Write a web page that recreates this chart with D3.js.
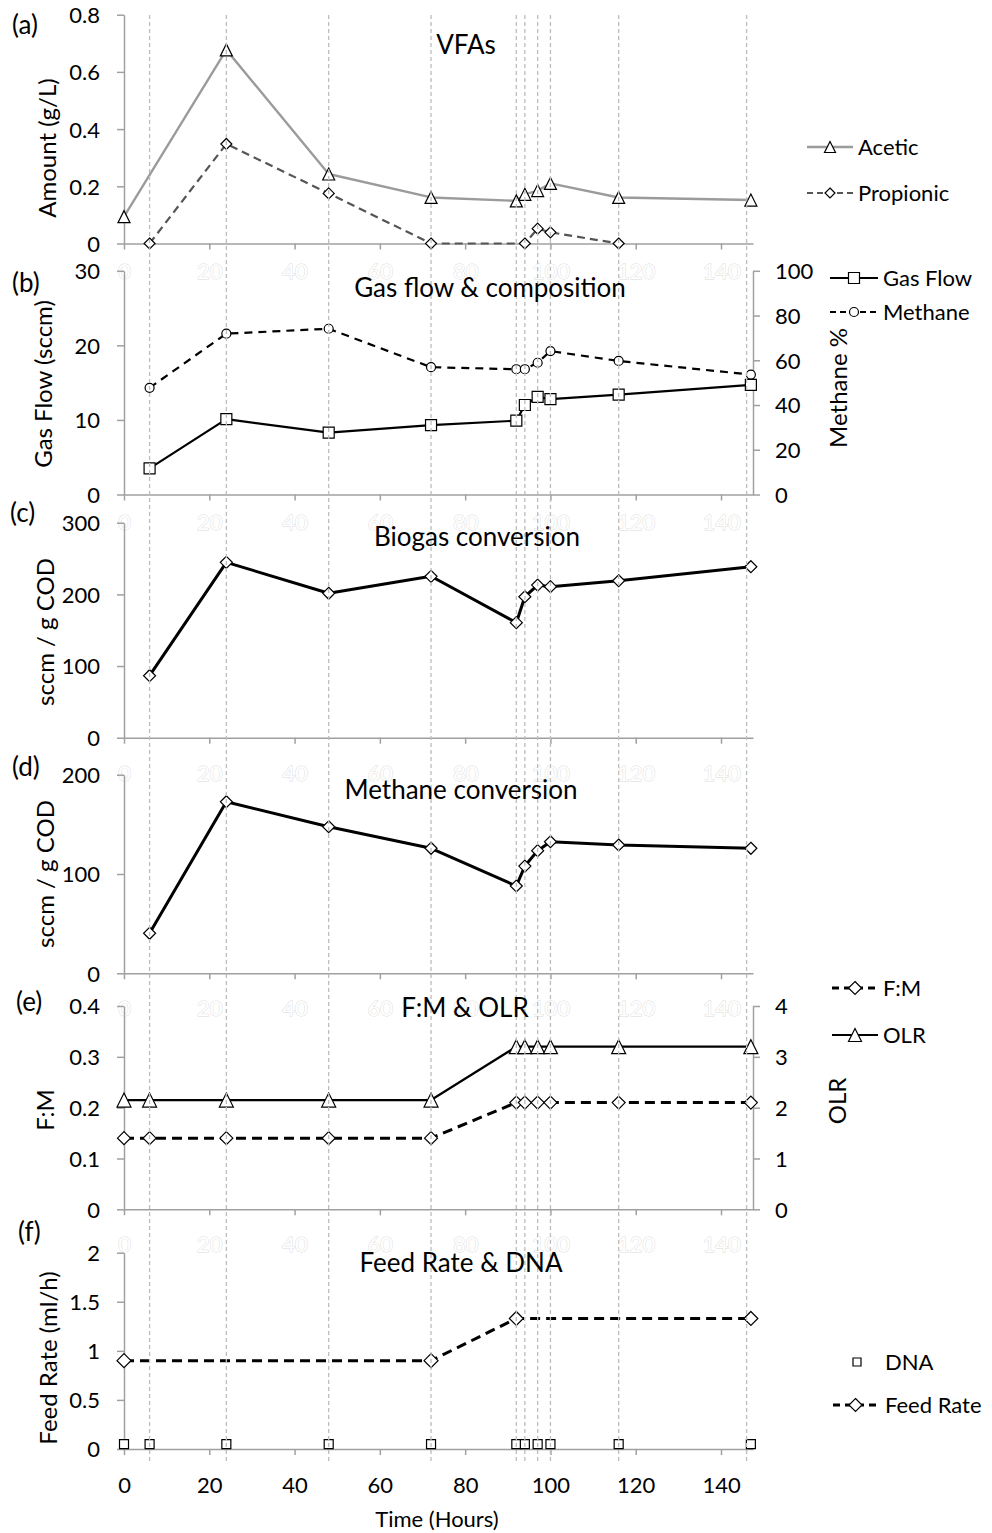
<!DOCTYPE html>
<html>
<head>
<meta charset="utf-8">
<script src="https://cdn.jsdelivr.net/npm/d3@7/dist/d3.min.js"></script>
<style>
  html, body { margin: 0; padding: 0; background: #fff; }
  svg { display: block; }
  text { font-family: Lato, "Open Sans", sans-serif; }
</style>
</head>
<body>
<svg id="chart" width="992" height="1533"></svg>
<script>
// ---- data ----
const sampleHours = [0, 6, 24, 48, 72, 92, 94, 97, 100, 116, 147];
const guideHours = [6, 24, 48, 72, 92, 94, 97, 100, 116, 146];
const timeTicks = [0, 20, 40, 60, 80, 100, 120, 140];

// (a) VFAs, g/L
const aceticHours = [0, 24, 48, 72, 92, 94, 97, 100, 116, 147];
const aceticValues = [0.094, 0.677, 0.243, 0.161, 0.149, 0.172, 0.185, 0.210, 0.161, 0.152];
const propionicHours = [6, 24, 48, 72, 94, 97, 100, 116];
const propionicValues = [0, 0.348, 0.175, 0, 0, 0.052, 0.039, 0];

// (b) gas flow (sccm) and methane content (%)
const gasHours = [6, 24, 48, 72, 92, 94, 97, 100, 116, 147];
const gasFlowValues = [3.5, 10.1, 8.3, 9.3, 9.9, 12.0, 13.1, 12.8, 13.4, 14.7];
const methanePctValues = [47.7, 71.9, 74.1, 56.9, 56.0, 56.0, 58.9, 64.1, 59.7, 53.6];

// (c) biogas conversion and (d) methane conversion, sccm / g COD
const biogasConvValues = [86.5, 244.7, 201.5, 225.2, 160.5, 196.7, 213.0, 210.7, 219.0, 238.6];
const methaneConvValues = [40.3, 172.8, 147.6, 125.9, 87.9, 108.0, 123.5, 132.5, 129.2, 125.9];

// (e) F:M ratio and OLR
const fmValues = [0.14, 0.14, 0.14, 0.14, 0.14, 0.21, 0.21, 0.21, 0.21, 0.21, 0.21];
const olrValues = [2.15, 2.15, 2.15, 2.15, 2.15, 3.2, 3.2, 3.2, 3.2, 3.2, 3.2];

// (f) feed rate (ml/h) and DNA sampling points
const feedHours = [0, 72, 92, 147];
const feedValues = [0.9, 0.9, 1.33, 1.33];
const dnaValues = [0.05, 0.05, 0.05, 0.05, 0.05, 0.05, 0.05, 0.05, 0.05, 0.05, 0.05];

// ---- helpers ----
const zip = (ts, vs) => ts.map((t, i) => ({ t, v: vs[i] }));
const svg = d3.select("#chart");
const FONT = 'Lato, "Open Sans", sans-serif';
const AXIS = "#a0a0a0";
const LABEL_SIZE = 22, TITLE_SIZE = 24, HEAD_SIZE = 26;

const x = d3.scaleLinear().domain([0, 147.5]).range([124, 753]);
const xRight = 753;

function shape(kind, s) {
  const h = s / 2;
  if (kind === "triangle") return `M0,${-h}L${h},${h}L${-h},${h}Z`;
  if (kind === "diamond") return `M0,${-h}L${h},0L0,${h}L${-h},0Z`;
  if (kind === "square") return `M${-h},${-h}H${h}V${h}H${-h}Z`;
  if (kind === "circle") return `M${-h},0A${h},${h} 0 1,0 ${h},0A${h},${h} 0 1,0 ${-h},0Z`;
}

function series(g, pts, y, o) {
  if (o.line !== false) {
    g.append("path").datum(pts)
      .attr("d", d3.line().x(d => x(d.t)).y(d => y(d.v)))
      .attr("fill", "none").attr("stroke", o.color || "#000")
      .attr("stroke-width", o.width || 2)
      .attr("stroke-dasharray", o.dash || null)
      .attr("stroke-linejoin", "round");
  }
  g.selectAll(null).data(pts).enter().append("path")
    .attr("transform", d => `translate(${x(d.t)},${y(d.v)})`)
    .attr("d", shape(o.marker, o.size || 11))
    .attr("fill", "#fff").attr("stroke", "#000").attr("stroke-width", o.mw || 1.2);
}

function styleAxis(g) {
  g.attr("font-family", FONT).attr("font-size", LABEL_SIZE);
  g.selectAll("path.domain").attr("stroke", AXIS).attr("stroke-width", 1.5);
  g.selectAll(".tick line").attr("stroke", AXIS).attr("stroke-width", 1.5);
  g.selectAll(".tick text").style("fill", "#000");
}

const numFmt = d => (d === 0 ? "0" : String(d));

function leftAxis(y, ticks) {
  const g = svg.append("g").attr("transform", `translate(${x(0)},0)`)
    .call(d3.axisLeft(y).tickValues(ticks).tickFormat(numFmt).tickSize(7).tickSizeOuter(0).tickPadding(17));
  styleAxis(g);
  g.selectAll(".tick text").attr("dy", "0.36em");
}

function rightAxis(y, ticks) {
  const g = svg.append("g").attr("transform", `translate(${xRight},0)`)
    .call(d3.axisRight(y).tickValues(ticks).tickFormat(numFmt).tickSize(7).tickSizeOuter(0).tickPadding(15));
  styleAxis(g);
  g.selectAll(".tick text").attr("dy", "0.36em");
}

// x axis; on the upper panels the labels stay white with a faint outline
function bottomAxis(y0, labelOffset, visible) {
  const g = svg.append("g").attr("transform", `translate(0,${y0})`)
    .call(d3.axisBottom(x).tickValues(timeTicks).tickSize(6).tickSizeOuter(0));
  styleAxis(g);
  const t = g.selectAll(".tick text").attr("y", labelOffset).attr("dy", "0.36em");
  if (!visible) {
    t.style("fill", "#fff").style("stroke", "#dadada").style("stroke-width", 0.9)
      .style("paint-order", "stroke");
  }
}

function title(txt, cx, cy) {
  svg.append("text").attr("x", cx).attr("y", cy).attr("dy", "0.36em")
    .attr("text-anchor", "middle").attr("font-size", HEAD_SIZE).style("fill", "#000").text(txt);
}
function panelTag(txt, lx, cy) {
  svg.append("text").attr("x", lx).attr("y", cy).attr("dy", "0.36em")
    .attr("font-size", HEAD_SIZE).style("fill", "#000").text(txt);
}
function yTitle(txt, cx, cy) {
  svg.append("text").attr("transform", `translate(${cx},${cy}) rotate(-90)`)
    .attr("dy", "0.36em").attr("text-anchor", "middle").attr("font-size", TITLE_SIZE)
    .style("fill", "#000").text(txt);
}
function legendItem(lx0, lx1, cy, label, o) {
  const g = svg.append("g");
  if (o.line !== false) {
    g.append("line").attr("x1", lx0).attr("x2", lx1).attr("y1", cy).attr("y2", cy)
      .attr("stroke", o.color || "#000").attr("stroke-width", o.width || 2)
      .attr("stroke-dasharray", o.dash || null);
  }
  g.append("path").attr("transform", `translate(${(lx0 + lx1) / 2},${cy})`)
    .attr("d", shape(o.marker, o.size || 10))
    .attr("fill", "#fff").attr("stroke", "#000").attr("stroke-width", 1.2);
  g.append("text").attr("x", o.tx || lx1 + 5).attr("y", cy).attr("dy", "0.36em")
    .attr("font-size", LABEL_SIZE).style("fill", "#000").text(label);
}

// ---- panel scales ----
const yA = d3.scaleLinear().domain([0, 0.8]).range([243.5, 14.7]);
const yB = d3.scaleLinear().domain([0, 30]).range([494.5, 270.8]);
const yB2 = d3.scaleLinear().domain([0, 100]).range([494.5, 270.8]);
const yC = d3.scaleLinear().domain([0, 300]).range([737.7, 522.7]);
const yD = d3.scaleLinear().domain([0, 200]).range([973.3, 774.7]);
const yE = d3.scaleLinear().domain([0, 0.4]).range([1209.3, 1006]);
const yE2 = d3.scaleLinear().domain([0, 4]).range([1209.3, 1006]);
const yF = d3.scaleLinear().domain([0, 2]).range([1449, 1252.7]);

// ---- axes ----
leftAxis(yA, [0, 0.2, 0.4, 0.6, 0.8]);
bottomAxis(yA(0), 27.5, false);

leftAxis(yB, [0, 10, 20, 30]);
rightAxis(yB2, [0, 20, 40, 60, 80, 100]);
bottomAxis(yB(0), 27.5, false);

leftAxis(yC, [0, 100, 200, 300]);
bottomAxis(yC(0), 35, false);

leftAxis(yD, [0, 100, 200]);
bottomAxis(yD(0), 35, false);

leftAxis(yE, [0, 0.1, 0.2, 0.3, 0.4]);
rightAxis(yE2, [0, 1, 2, 3, 4]);
bottomAxis(yE(0), 35, false);

leftAxis(yF, [0, 0.5, 1, 1.5, 2]);
bottomAxis(yF(0), 36, true);

// ---- series ----
const gA = svg.append("g");
series(gA, zip(aceticHours, aceticValues), yA, { color: "#9b9b9b", width: 2.4, marker: "triangle", size: 12 });
series(gA, zip(propionicHours, propionicValues), yA, { color: "#555", width: 2.2, dash: "8,5", marker: "diamond", size: 11 });

const gB = svg.append("g");
series(gB, zip(gasHours, methanePctValues), yB2, { width: 2.2, dash: "8,6", marker: "circle", size: 9 });
series(gB, zip(gasHours, gasFlowValues), yB, { width: 2.2, marker: "square", size: 11 });

series(svg.append("g"), zip(gasHours, biogasConvValues), yC, { width: 3, marker: "diamond", size: 12 });
series(svg.append("g"), zip(gasHours, methaneConvValues), yD, { width: 3, marker: "diamond", size: 12 });

const gE = svg.append("g");
series(gE, zip(sampleHours, olrValues), yE2, { width: 2.2, marker: "triangle", size: 14 });
series(gE, zip(sampleHours, fmValues), yE, { width: 3, dash: "10,6", marker: "diamond", size: 13 });

const gF = svg.append("g");
series(gF, zip(feedHours, feedValues), yF, { width: 3, dash: "10,6", marker: "diamond", size: 14 });
series(gF, zip(sampleHours, dnaValues), yF, { line: false, marker: "square", size: 9 });

// ---- sampling guides across all panels ----
svg.append("g").selectAll("line").data(guideHours).enter().append("line")
  .attr("x1", d => x(d)).attr("x2", d => x(d))
  .attr("y1", 15).attr("y2", 1462)
  .attr("stroke", "#bdbdbd").attr("stroke-width", 1.3).attr("stroke-dasharray", "4,3");

// ---- titles and labels ----
title("VFAs", 466, 45);
title("Gas flow & composition", 490, 288);
title("Biogas conversion", 477, 537);
title("Methane conversion", 461, 790);
title("F:M & OLR", 465, 1008);
title("Feed Rate & DNA", 461, 1263);

panelTag("(a)", 12, 25);
panelTag("(b)", 12, 283);
panelTag("(c)", 10, 513);
panelTag("(d)", 12, 767);
panelTag("(e)", 16, 1002);
panelTag("(f)", 18, 1232);

yTitle("Amount (g/L)", 47, 148);
yTitle("Gas Flow (sccm)", 43, 384);
yTitle("Methane %", 838, 388);
yTitle("sccm / g COD", 45, 632);
yTitle("sccm / g COD", 45, 874);
yTitle("F:M", 45, 1110);
yTitle("OLR", 837, 1101);
yTitle("Feed Rate (ml/h)", 48, 1358);

svg.append("text").attr("x", 437).attr("y", 1519).attr("dy", "0.36em")
  .attr("text-anchor", "middle").attr("font-size", LABEL_SIZE).style("fill", "#000").text("Time (Hours)");

// ---- legends ----
legendItem(807, 853, 147, "Acetic", { color: "#9b9b9b", width: 2.4, marker: "triangle", size: 11 });
legendItem(807, 853, 193, "Propionic", { color: "#555", width: 2.2, dash: "6,4", marker: "diamond", size: 10 });
legendItem(830, 878, 278, "Gas Flow", { width: 2.2, marker: "square", size: 11 });
legendItem(830, 878, 312, "Methane", { width: 2.2, dash: "6,4", marker: "circle", size: 9 });
legendItem(832, 878, 988, "F:M", { width: 3, dash: "7,5", marker: "diamond", size: 13 });
legendItem(832, 878, 1035, "OLR", { width: 2, marker: "triangle", size: 13 });
legendItem(850, 864, 1362, "DNA", { line: false, marker: "square", size: 8, tx: 885 });
legendItem(833, 878, 1405, "Feed Rate", { width: 3, dash: "7,5", marker: "diamond", size: 13, tx: 885 });
</script>
</body>
</html>
